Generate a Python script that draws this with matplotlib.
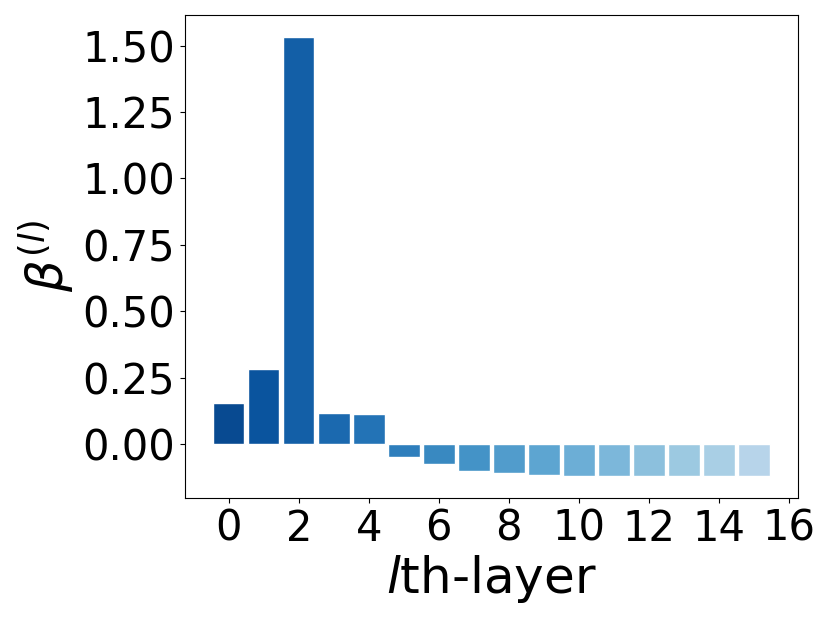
import numpy as np
import matplotlib
matplotlib.use("Agg")
import matplotlib.pyplot as plt

layers = list(range(16))
beta = [0.154, 0.284, 1.533, 0.115, 0.112, -0.050, -0.075, -0.103,
        -0.110, -0.117, -0.119, -0.121, -0.121, -0.120, -0.120, -0.120]
xticks = list(range(0, 17, 2))
yticks = [0.00, 0.25, 0.50, 0.75, 1.00, 1.25, 1.50]

colors = plt.cm.Blues(np.linspace(0.9, 0.3, len(layers)))

fig = plt.figure(figsize=(8.3, 6.23), dpi=100)
ax = fig.add_axes([0.223, 0.2006, 0.738, 0.7754])
ax.bar(layers, beta, width=0.9, color=colors, edgecolor="white", linewidth=1)
ax.set_xticks(xticks)
ax.set_yticks(yticks)
ax.set_yticklabels([f"{v:.2f}" for v in yticks])
ax.tick_params(labelsize=30)
ax.set_xlabel(r"$l$th-layer", fontsize=36, labelpad=2)
ax.set_ylabel(r"$\beta^{(l)}$", fontsize=36, labelpad=4)
fig.savefig("out.png", dpi=100)
